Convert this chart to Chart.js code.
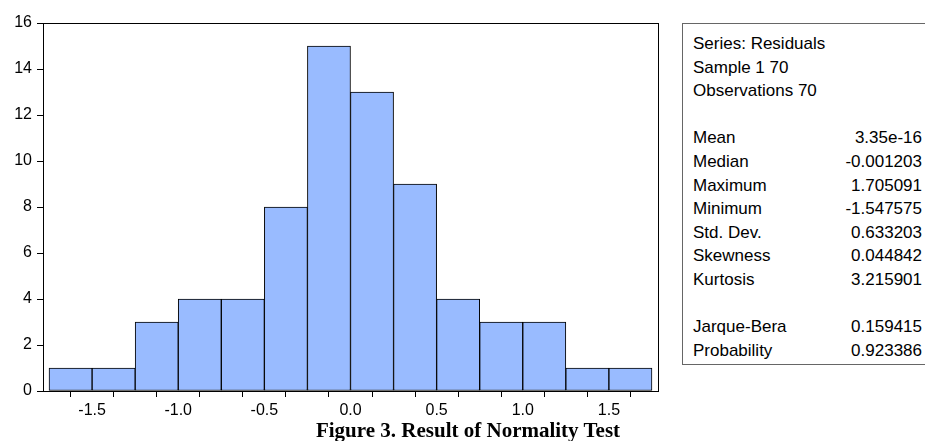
<!DOCTYPE html>
<html>
<head>
<meta charset="utf-8">
<script src="https://cdn.jsdelivr.net/npm/chart.js@4"></script>
<style>
  body { margin: 0; background: #fff; font-family: "Liberation Sans", Arial, sans-serif; }
  #wrap { position: relative; width: 925px; height: 441px; overflow: hidden; }
  #chartBox { position: absolute; left: 0; top: 0; width: 670px; height: 441px; }
  #stats {
    position: absolute; left: 682px; top: 23px; width: 260px; height: 342px;
    border: 1px solid #666; box-sizing: border-box;
    font-size: 17px; line-height: 23.6px; color: #000; padding: 8px 0 0 10px;
  }
  #stats .row { display: flex; height: 23.6px; white-space: nowrap; }
  #stats .lab { width: 130px; }
  #stats .val { width: 99px; text-align: right; }
  #caption {
    position: absolute; left: 218px; width: 500px; top: 420px; line-height: 20px; text-align: center;
    font-family: "Liberation Serif", "Times New Roman", serif; font-weight: bold; font-size: 21px;
  }
</style>
</head>
<body>
<div id="wrap">
  <div id="chartBox"><canvas id="myChart"></canvas></div>
  <div id="stats"></div>
  <div id="caption">Figure 3. Result of Normality Test</div>
</div>
<script>
// Histogram of residuals

const binCenters = [-1.625, -1.375, -1.125, -0.875, -0.625, -0.375, -0.125, 0.125, 0.375, 0.625, 0.875, 1.125, 1.375, 1.625];
const counts = [1, 1, 3, 4, 4, 8, 15, 13, 9, 4, 3, 3, 1, 1];
const xLabels = [-1.5, -1.0, -0.5, 0.0, 0.5, 1.0, 1.5];

// Stats panel
const headerLines = ['Series: Residuals', 'Sample 1 70', 'Observations 70'];
const statNames = ['Mean', 'Median', 'Maximum', 'Minimum', 'Std. Dev.', 'Skewness', 'Kurtosis'];
const statValues = ['3.35e-16', '-0.001203', '1.705091', '-1.547575', '0.633203', '0.044842', '3.215901'];
const testNames = ['Jarque-Bera', 'Probability'];
const testValues = ['0.159415', '0.923386'];

const statsEl = document.querySelector('#stats');
const addRow = (lab, val) => {
    const row = document.createElement('div');
    row.className = 'row';
    row.innerHTML = val === undefined
        ? `<span>${lab}</span>`
        : `<span class="lab">${lab}</span><span class="val">${val}</span>`;
    statsEl.appendChild(row);
};
headerLines.forEach(l => addRow(l));
addRow('&nbsp;');
statNames.forEach((n, i) => addRow(n, statValues[i]));
addRow('&nbsp;');
testNames.forEach((n, i) => addRow(n, testValues[i]));

// frame around the plot area
const frame = {
    id: 'frame',
    afterDraw(chart) {
        const { ctx, chartArea: a } = chart;
        ctx.save();
        ctx.strokeStyle = '#000';
        ctx.lineWidth = 1;
        ctx.strokeRect(Math.round(a.left) + 0.5, Math.round(a.top) + 0.5, Math.round(a.right - a.left), Math.round(a.bottom - a.top));
        ctx.restore();
    }
};

Chart.defaults.font.family = "'Liberation Sans', Arial, sans-serif";
Chart.defaults.font.size = 16;
Chart.defaults.color = '#000';

const config = {
    type: 'bar',
    data: {
        datasets: [{
            data: binCenters.map((x, i) => ({ x: x, y: counts[i] })),
            backgroundColor: '#99bbff',
            borderColor: '#000',
            borderWidth: 1,
            borderSkipped: false,
            barPercentage: 1,
            categoryPercentage: 1,
            grouped: false
        }]
    },
    plugins: [frame],
    options: {
        responsive: false,
        animation: false,
        events: [],
        layout: { padding: { left: 0, top: 23, right: 12, bottom: 0 } },
        plugins: { legend: { display: false }, tooltip: { enabled: false } },
        scales: {
            x: {
                type: 'linear',
                min: -1.785,
                max: 1.785,
                offset: false,
                afterFit: (s) => { s.height = 50; },
                grid: { drawOnChartArea: false, drawTicks: true, tickLength: 6, color: '#000' },
                border: { display: false },
                ticks: {
                    stepSize: 0.25,
                    includeBounds: false,
                    autoSkip: false,
                    maxRotation: 0,
                    font: { size: 16 },
                    padding: 4,
                    callback: (v) => {
                        const hit = xLabels.find(l => Math.abs(l - v) < 1e-6);
                        return hit === undefined ? '' : hit.toFixed(1);
                    }
                }
            },
            y: {
                min: 0,
                max: 16,
                afterFit: (s) => { s.width = 43; },
                grid: { drawOnChartArea: false, drawTicks: true, tickLength: 6, color: '#000' },
                border: { display: false },
                ticks: { stepSize: 2, font: { size: 16 }, padding: 5 }
            }
        }
    }
};

const canvas = document.getElementById('myChart');
canvas.width = 670;
canvas.height = 441;
const myChart = new Chart(canvas, config);
</script>
</body>
</html>
